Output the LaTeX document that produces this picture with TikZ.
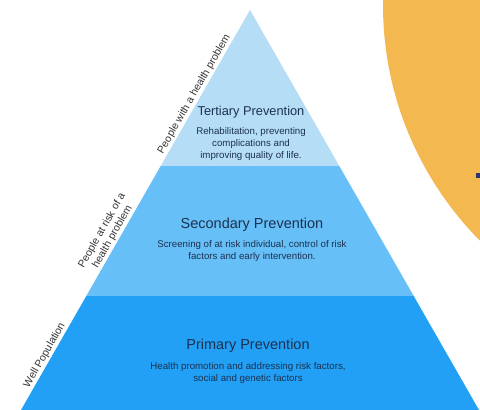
\documentclass[tikz,border=0pt]{standalone}
\usepackage{fontspec}
\setmainfont{Liberation Sans}
\usepackage{tikz}
\usetikzlibrary{positioning}

\definecolor{tertblue}{HTML}{B5DDF5}
\definecolor{secblue}{HTML}{66BFF7}
\definecolor{primblue}{HTML}{22A0F5}
\definecolor{sunorange}{HTML}{F3B950}
\definecolor{navytext}{HTML}{1C3150}
\definecolor{navymark}{HTML}{2E3270}

\begin{document}
\begin{tikzpicture}[x=1pt, y=1pt,
  tiertitle/.style={inner sep=0pt, text=navytext},
  tiertext/.style={inner sep=0pt, text=navytext, align=center, font=\fontsize{9.7}{12}\selectfont},
  sidelabel/.style={sloped, above, inner sep=1.5pt, text=black!80, align=center, font=\fontsize{10.5}{12}\selectfont}]

% page area
\fill[white] (0,0) rectangle (480,410);
\useasboundingbox (0,0) rectangle (480,410);
\clip (0,0) rectangle (480,410);

% orange disc in the corner
\fill[sunorange] (718,405) circle (335);
\fill[navymark] (476,232) rectangle (481,237);

% pyramid corners
\coordinate (apex) at (250,400);
\coordinate (tl) at (160.7,244);
\coordinate (tr) at (339.3,244);
\coordinate (sl) at (86.3,114);
\coordinate (sr) at (413.7,114);
\coordinate (bl) at (21,0);
\coordinate (br) at (479,0);

% the three levels
\fill[primblue] (bl) -- (br) -- (sr) -- (sl) -- cycle;
\fill[secblue] (sl) -- (sr) -- (tr) -- (tl) -- cycle;
\fill[tertblue] (tl) -- (tr) -- (apex) -- cycle;

% level texts
\node[tiertitle, font=\fontsize{12.8}{15}\selectfont] (tert) at (251,297.5) {Tertiary Prevention};
\node[tiertext, below=8.5pt of tert] (terttext) {Rehabilitation, preventing\\complications and\\improving quality of life.};

\node[tiertitle, font=\fontsize{14.5}{17}\selectfont] (sec) at (252,185) {Secondary Prevention};
\node[tiertext, below=8pt of sec] (sectext) {Screening of at risk individual, control of risk\\factors and early intervention.};

\node[tiertitle, font=\fontsize{14.5}{17}\selectfont] (prim) at (248,64) {Primary Prevention};
\node[tiertext, below=9pt of prim] (primtext) {Health promotion and addressing risk factors,\\social and genetic factors};

% population groups along the left side
\path (tl) -- (apex) node[sidelabel, pos=0.44] (grpill) {People with a health problem};
\path (sl) -- (tl) node[sidelabel, pos=0.43] (grprisk) {People at risk of a\\health problem};
\path (bl) -- (sl) node[sidelabel, pos=0.45] (grpwell) {Well Population};

\end{tikzpicture}
\end{document}
